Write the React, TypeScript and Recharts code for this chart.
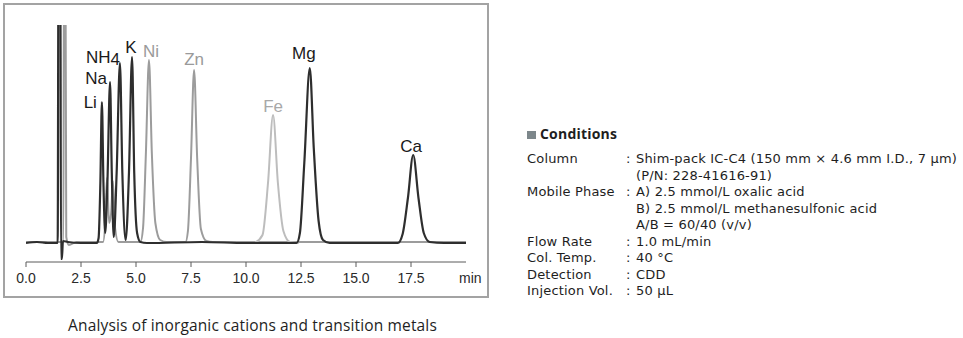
import React from 'react';
import { ComposedChart, Line, Scatter, XAxis, YAxis } from 'recharts';

// chromatogram traces: [time (min), signal]
const cationTrace: [number, number][] = [
  [0, 0], [0.5, 1], [1.0, 0], [1.44, 0], [1.48, 320], [1.56, 320], [1.59, -16], [1.63, -16],
  [1.68, 2], [1.9, 1], [2.5, 0], [3.22, 0], [3.3, 5], [3.38, 60], [3.45, 141], [3.52, 60],
  [3.6, 10], [3.7, 60], [3.82, 161], [3.9, 70], [3.99, 6], [4.12, 70], [4.27, 180], [4.38, 70],
  [4.53, 3], [4.68, 70], [4.82, 186], [4.92, 70], [5.05, 10], [5.2, 1], [5.5, 0], [8, 1],
  [10, 0], [12.3, 0], [12.45, 10], [12.65, 80], [12.9, 175], [13.08, 95], [13.3, 22],
  [13.5, 3], [13.8, 0], [15.5, 0], [16.9, 0], [17.12, 9], [17.36, 45], [17.6, 88],
  [17.84, 45], [18.08, 10], [18.35, 1], [19, 0], [20, 0],
];
const metalTrace: [number, number][] = [
  [0, 1], [1.0, 1], [1.7, 1], [1.73, 320], [1.79, 320], [1.83, 6], [1.95, -2], [2.3, 1],
  [3.5, 1], [3.6, 20], [3.68, 65], [3.78, 20], [3.87, 30], [3.95, 62], [4.05, 15], [4.2, 1],
  [5.2, 1], [5.32, 15], [5.45, 90], [5.59, 183], [5.72, 90], [5.88, 20], [6.1, 3], [6.4, 1],
  [7.25, 1], [7.36, 12], [7.5, 85], [7.64, 173], [7.78, 85], [7.95, 14], [8.2, 2], [8.5, 1],
  [12, 1], [16, 1], [20, 1],
];
const ironTrace: [number, number][] = [
  [10.4, 0], [10.75, 8], [11.0, 60], [11.23, 128], [11.45, 60], [11.7, 12], [12.0, 1], [12.4, 0],
];

const peakNames = ['Li', 'Na', 'NH4', 'K', 'Ni', 'Zn', 'Fe', 'Mg', 'Ca'];
const peakTimes = [3.45, 3.82, 4.27, 4.82, 5.59, 7.64, 11.23, 12.9, 17.6];
const peakHeights = [141, 161, 180, 186, 183, 173, 128, 175, 88];

const xTicks = [0, 2.5, 5, 7.5, 10, 12.5, 15, 17.5];

const condLabels = ['Column', '', 'Mobile Phase', '', '', 'Flow Rate', 'Col. Temp.', 'Detection', 'Injection Vol.'];
const condValues = [
  'Shim-pack IC-C4 (150 mm × 4.6 mm I.D., 7 µm)',
  '(P/N: 228-41616-91)',
  'A) 2.5 mmol/L oxalic acid',
  'B) 2.5 mmol/L methanesulfonic acid',
  'A/B = 60/40 (v/v)',
  '1.0 mL/min',
  '40 °C',
  'CDD',
  '50 µL',
];

// label placement relative to peak apex
const labelLayout: Record<string, { anchor: string; dx: number; dy: number; color: string }> = {
  Li: { anchor: 'end', dx: -5, dy: 6, color: '#1a1a1a' },
  Na: { anchor: 'end', dx: -3, dy: 2, color: '#1a1a1a' },
  NH4: { anchor: 'end', dx: 0, dy: 0, color: '#1a1a1a' },
  K: { anchor: 'middle', dx: -1, dy: -4, color: '#1a1a1a' },
  Ni: { anchor: 'middle', dx: 2, dy: -3, color: '#9a9a9a' },
  Zn: { anchor: 'middle', dx: 0, dy: -5, color: '#9a9a9a' },
  Fe: { anchor: 'middle', dx: 0, dy: -3, color: '#a8a8a8' },
  Mg: { anchor: 'middle', dx: -6, dy: -9, color: '#1a1a1a' },
  Ca: { anchor: 'middle', dx: -2, dy: -3, color: '#1a1a1a' },
};

const toPoints = (arr: [number, number][]) => arr.map(([t, v]) => ({ t, v }));

const PeakLabel = (props: any) => {
  const { cx, cy, payload } = props;
  const l = labelLayout[payload.name];
  const isNH4 = payload.name === 'NH4';
  return (
    <text
      x={cx + l.dx}
      y={cy + l.dy}
      textAnchor={l.anchor}
      fill={l.color}
      fontSize={17}
      fontFamily="Liberation Sans, Arial, sans-serif"
    >
      {isNH4 ? (
        <>
          NH<tspan dy={2}>4</tspan>
        </>
      ) : (
        payload.name
      )}
    </text>
  );
};

export default function App() {
  const labelPoints = peakNames.map((name, i) => ({ t: peakTimes[i], v: peakHeights[i], name }));
  const textFont = '"Open Sans", "Noto Sans", sans-serif';

  return (
    <div
      style={{
        position: 'absolute',
        left: 0,
        top: 0,
        width: 963,
        height: 338,
        background: '#fff',
        overflow: 'hidden',
      }}
    >
      {/* frame around the chromatogram */}
      <div
        style={{
          position: 'absolute',
          left: 3,
          top: 3,
          width: 482,
          height: 291,
          border: '2.5px solid #a3a3a3',
        }}
      />
      <div style={{ position: 'absolute', left: 0, top: 0 }}>
        <ComposedChart width={490} height={300} margin={{ top: 25, left: 26, right: 24, bottom: 8 }}>
          <XAxis
            type="number"
            dataKey="t"
            domain={[0, 20]}
            ticks={xTicks}
            tickFormatter={(v: number) => v.toFixed(1)}
            height={30}
            tickSize={5}
            tickMargin={6}
            stroke="#5a5a5a"
            tick={{ fill: '#2a2a2a', fontSize: 14, fontFamily: 'Liberation Sans, Arial, sans-serif' }}
            allowDataOverflow
          />
          <YAxis type="number" domain={[-19, 218]} hide allowDataOverflow />
          <Line
            data={toPoints(metalTrace)}
            dataKey="v"
            type="monotone"
            stroke="#9c9c9c"
            strokeWidth={2}
            dot={false}
            activeDot={false}
            isAnimationActive={false}
          />
          <Line
            data={toPoints(ironTrace)}
            dataKey="v"
            type="monotone"
            stroke="#bdbdbd"
            strokeWidth={2}
            dot={false}
            activeDot={false}
            isAnimationActive={false}
          />
          <Line
            data={toPoints(cationTrace)}
            dataKey="v"
            type="monotone"
            stroke="#2e2e2e"
            strokeWidth={2.2}
            dot={false}
            activeDot={false}
            isAnimationActive={false}
          />
          <Scatter data={labelPoints} dataKey="v" shape={PeakLabel} isAnimationActive={false} />
        </ComposedChart>
      </div>
      <span
        style={{
          position: 'absolute',
          left: 459,
          top: 270,
          fontSize: 14,
          fontFamily: 'Liberation Sans, Arial, sans-serif',
          color: '#2a2a2a',
          lineHeight: '16px',
        }}
      >
        min
      </span>
      <div
        style={{
          position: 'absolute',
          left: 0,
          width: 505,
          top: 315,
          textAlign: 'center',
          fontFamily: textFont,
          fontSize: 15.5,
          letterSpacing: 0.15,
          color: '#1e1e1e',
          lineHeight: '20px',
        }}
      >
        Analysis of inorganic cations and transition metals
      </div>

      {/* conditions block */}
      <div
        style={{
          position: 'absolute',
          left: 527,
          top: 131,
          width: 9,
          height: 8,
          background: '#7d878b',
        }}
      />
      <div
        style={{
          position: 'absolute',
          left: 540,
          top: 125,
          fontFamily: textFont,
          fontSize: 14,
          fontWeight: 700,
          letterSpacing: 0.2,
          color: '#1e1e1e',
          lineHeight: '18px',
        }}
      >
        Conditions
      </div>
      <div
        style={{
          position: 'absolute',
          left: 527,
          top: 151,
          fontFamily: '"DejaVu Sans", sans-serif',
          fontSize: 13,
          letterSpacing: 0.18,
          color: '#1e1e1e',
          lineHeight: '16.5px',
        }}
      >
        {condValues.map((val, i) => (
          <div key={i} style={{ position: 'relative', height: 16.5, whiteSpace: 'nowrap' }}>
            <span style={{ position: 'absolute', left: 0 }}>{condLabels[i]}</span>
            <span style={{ position: 'absolute', left: 99 }}>{i === 0 || condLabels[i] ? ':' : ''}</span>
            <span style={{ position: 'absolute', left: 109 }}>{val}</span>
          </div>
        ))}
      </div>
    </div>
  );
}
